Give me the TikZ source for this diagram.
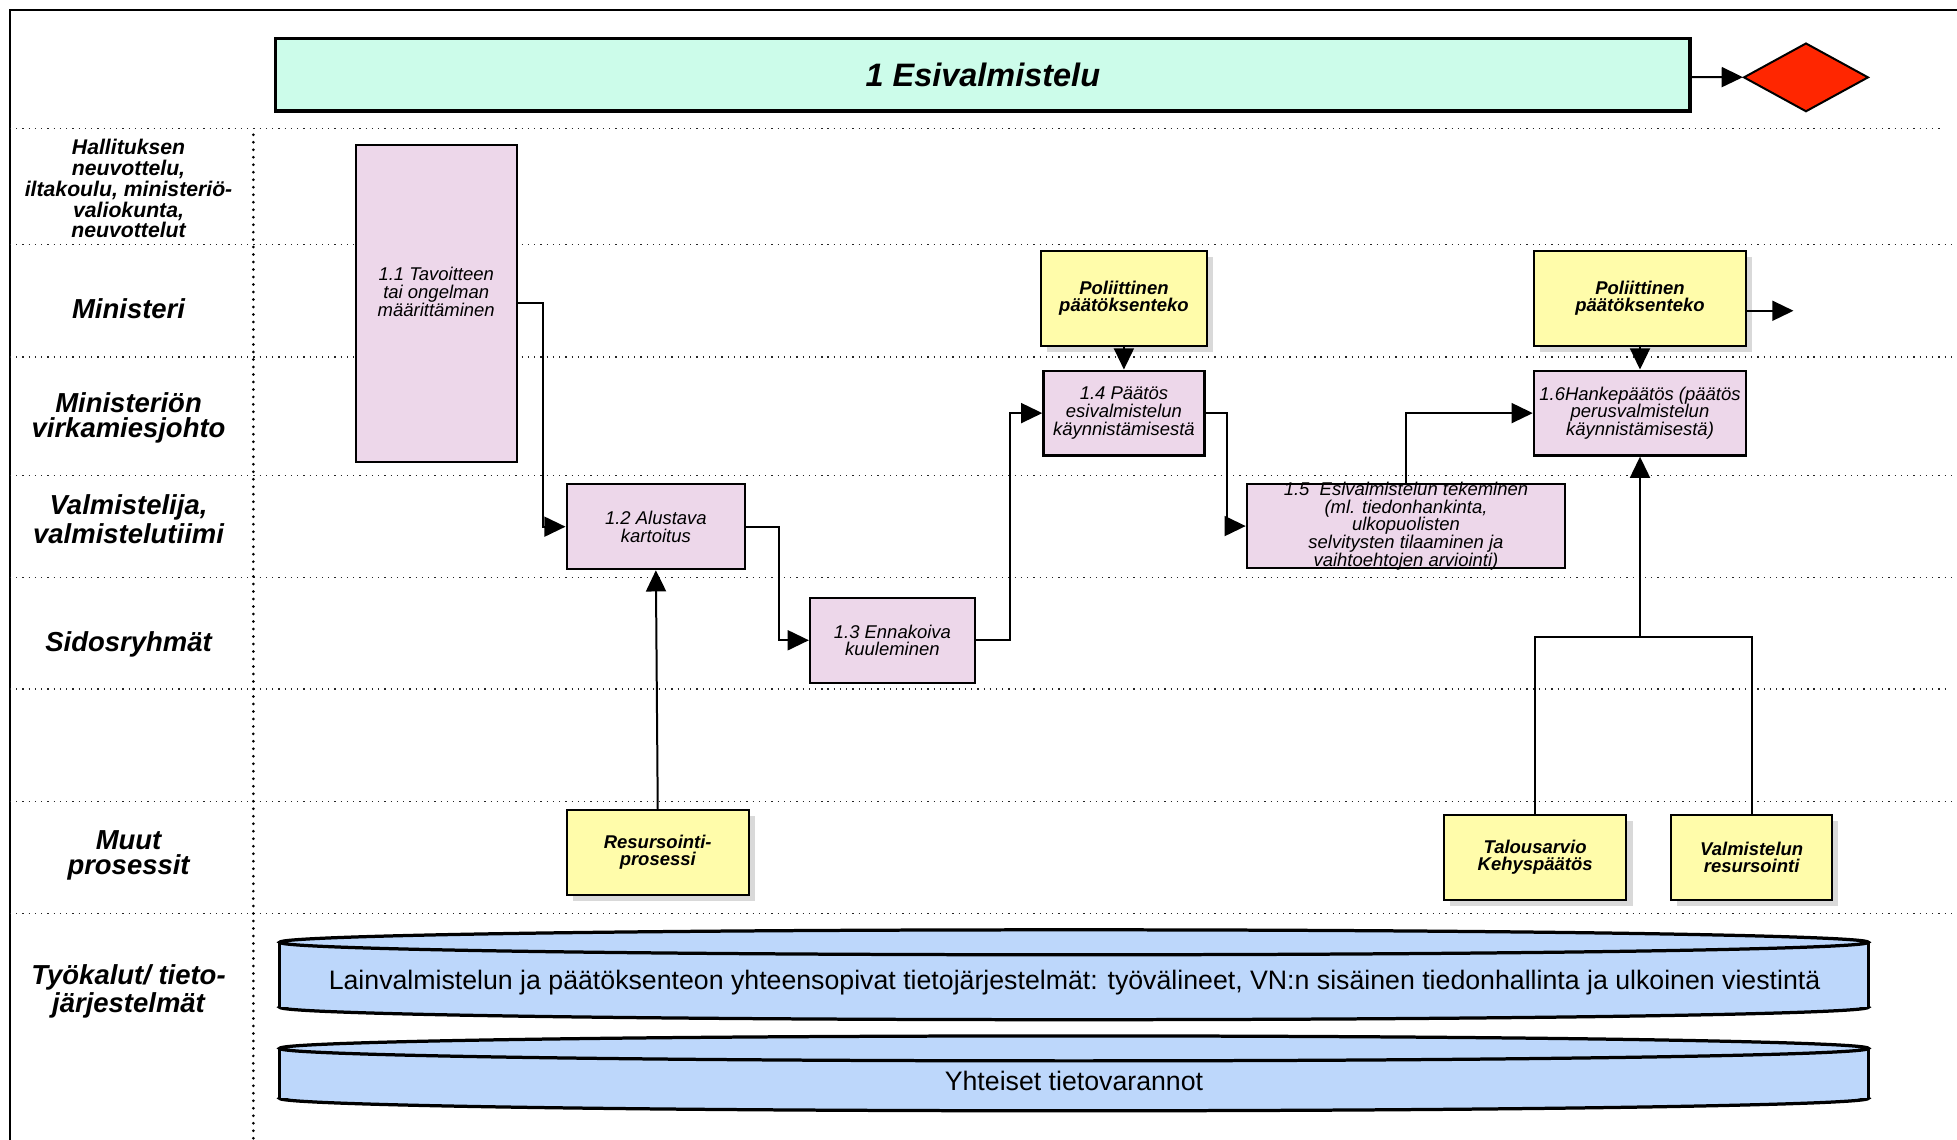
\documentclass[tikz,border=0pt]{standalone}
\usepackage{fontspec}
\setmainfont{Liberation Sans}
\usepackage{tikz}
\usetikzlibrary{shapes.geometric,arrows.meta,positioning,shadows}

\definecolor{phaseFill}{RGB}{204,252,234}
\definecolor{taskFill}{RGB}{237,215,234}
\definecolor{polFill}{RGB}{255,252,170}
\definecolor{gateFill}{RGB}{255,38,0}
\definecolor{toolFill}{RGB}{189,215,251}

\begin{document}
\begin{tikzpicture}[x=0.5pt,y=-0.5pt,
				lane_label/.style ={align=center,
					font=\fontsize{11}{10}\selectfont\bfseries\itshape},
				lane_small/.style ={align=center,
					font=\fontsize{8.5}{8.4}\selectfont\bfseries\itshape},
				block_phase/.style ={rectangle, draw=black, line width=1.3pt, fill=phaseFill,
					minimum width=566.5pt, minimum height=29pt,
					font=\fontsize{13}{13}\selectfont\bfseries\itshape},
				task_text/.style ={align=center, inner sep=0pt,
					font=\fontsize{7.4}{7.1}\selectfont\itshape},
				block_task/.style 2 args ={rectangle, draw=black, line width=0.9pt, fill=taskFill,
					minimum width=#1*0.5pt, minimum height=#2*0.5pt, inner sep=1pt,
					align=center, font=\fontsize{7.4}{7.1}\selectfont\itshape},
				block_pol/.style 2 args ={rectangle, draw=black, line width=0.9pt, fill=polFill,
					minimum width=#1*0.5pt, minimum height=#2*0.5pt, inner sep=1pt,
					align=center, font=\fontsize{7.4}{6.6}\selectfont\bfseries\itshape,
					drop shadow={shadow xshift=2.5pt, shadow yshift=-2.5pt, opacity=0.3}},
				tool_text/.style ={font=\fontsize{10.7}{11}\selectfont},
				tool/.style ={fill=toolFill, draw=black, line width=1.3pt},
				lane_sep/.style ={draw=black!85, dotted, line width=0.5pt},
				line/.style ={draw, line width=0.8pt, -{Triangle[length=8.5pt,width=8pt]}}]
				\useasboundingbox (0,0) rectangle (1568,913);
				% frame and swimlanes
				\draw[line width=1pt] (8,913) -- (8,8) -- (1568,8);
				\begin{scope}[every path/.style=lane_sep]
					\path (8,103) -- (1555,103);
					\path (8,196) -- (1568,196);
					\path (8,286) -- (1568,286);
					\path (8,381) -- (1568,381);
					\path (8,463) -- (1568,463);
					\path (8,552) -- (1562,552);
					\path (8,642) -- (1568,642);
					\path (8,732) -- (1568,732);
				\end{scope}
				\draw[line width=1.2pt, dash pattern=on 0pt off 3pt, line cap=round] (203,108) -- (203,913);
				% lane names
				\node [lane_small] (laneGov) at (103,151) {Hallituksen\\neuvottelu,\\iltakoulu, ministeriö-\\valiokunta,\\neuvottelut};
				\node [lane_label] (laneMin) at (103,247) {Ministeri};
				\node [lane_label] (laneLead) at (103,335) {Ministeriön\\virkamiesjohto};
				\node [lane_label] (laneTeam) at (103,416) {Valmistelija,\\valmistelutiimi};
				\node [lane_label] (laneStake) at (103,516) {Sidosryhmät};
				\node [lane_label] (laneOther) at (103,685) {Muut\\prosessit};
				\node [lane_label] (laneTools) at (103,794) {Työkalut/ tieto-\\järjestelmät};
				% phase header
				\node [block_phase] (phase) at (787.5,60) {1 Esivalmistelu};
				\node [diamond, draw=black, line width=0.8pt, fill=gateFill, inner sep=0pt,
					minimum width=50pt, minimum height=27.5pt] (gate) at (1447,62) {};
				% process steps
				\node [block_task={129}{254},
					label={[task_text, yshift=4.5pt]center:{1.1 Tavoitteen\\tai ongelman\\määrittäminen}}] (goal) at (349.5,243) {};
				\node [block_task={143}{68}] (survey) at (525.5,422) {1.2 Alustava\\kartoitus};
				\node [block_task={132}{68}] (hearing) at (715,513) {1.3 Ennakoiva\\kuuleminen};
				\node [block_pol={133}{76}] (politics) at (900.5,239) {Poliittinen\\päätöksenteko};
				\node [block_task={129}{68}] (startDecision) at (900.5,331) {1.4 Päätös\\esivalmistelun\\käynnistämisestä};
				\node [block_task={255}{67},
					label={[task_text]center:{1.5\ \ Esivalmistelun tekeminen\\(ml. tiedonhankinta,\\ulkopuolisten\\selvitysten tilaaminen ja\\vaihtoehtojen arviointi)}}] (prep) at (1126.5,421.5) {};
				\node [block_pol={170}{76}] (politicsTwo) at (1314,239) {Poliittinen\\päätöksenteko};
				\node [block_task={170}{68}] (projectDecision) at (1314,331) {1.6Hankepäätös (päätös\\perusvalmistelun\\käynnistämisestä)};
				% other processes
				\node [block_pol={146}{68}] (resourcing) at (527,683) {Resursointi-\\prosessi};
				\node [block_pol={146}{68}] (budget) at (1230,687) {Talousarvio\\Kehyspäätös};
				\node [block_pol={129}{68}] (prepResources) at (1403.5,687) {Valmistelun\\resursointi};
				\coordinate (politicsOut) at (1437,249);
				\coordinate (merge) at (1314,510);
				% tools and information systems
				\filldraw[tool] (860.5,807) ellipse [x radius=636.5, y radius=10];
				\fill[toolFill] (224,755) rectangle (1497,807);
				\draw[line width=1.3pt] (224,755) -- (224,807) (1497,755) -- (1497,807);
				\filldraw[tool] (860.5,755) ellipse [x radius=636.5, y radius=10];
				\node [tool_text] (infoSystems) at (861,787) {Lainvalmistelun ja päätöksenteon yhteensopivat tietojärjestelmät: työvälineet, VN:n sisäinen tiedonhallinta ja ulkoinen viestintä};
				\filldraw[tool] (860.5,880) ellipse [x radius=636.5, y radius=10];
				\fill[toolFill] (224,840) rectangle (1497,880);
				\draw[line width=1.3pt] (224,840) -- (224,880) (1497,840) -- (1497,880);
				\filldraw[tool] (860.5,840) ellipse [x radius=636.5, y radius=10];
				\node [tool_text] (dataStores) at (860.5,866) {Yhteiset tietovarannot};
				% connecting nodes with paths
				\begin{scope}[every path/.style=line]
					\path (phase) -- (gate);
					\path (goal.east) -- ++(20,0) |- (survey.west);
					\path (survey.east) -- ++(26,0) |- (hearing.west);
					\path (hearing.east) -- ++(27,0) |- (startDecision.west);
					\path (startDecision.east) -- ++(17,0) |- (prep.west);
					\path (prep.north) |- (projectDecision.west);
					\path (politics) -- (startDecision);
					\path (politicsTwo) -- (projectDecision);
					\path (politicsTwo.east |- politicsOut) -- (politicsOut);
					\path (resourcing.north) -- (survey.south);
					\path (merge) -- (projectDecision.south);
				\end{scope}
				\draw[line width=0.8pt] (budget.north) -- (budget.north |- merge) -- (prepResources.north |- merge) -- (prepResources.north);
			\end{tikzpicture}
\end{document}
